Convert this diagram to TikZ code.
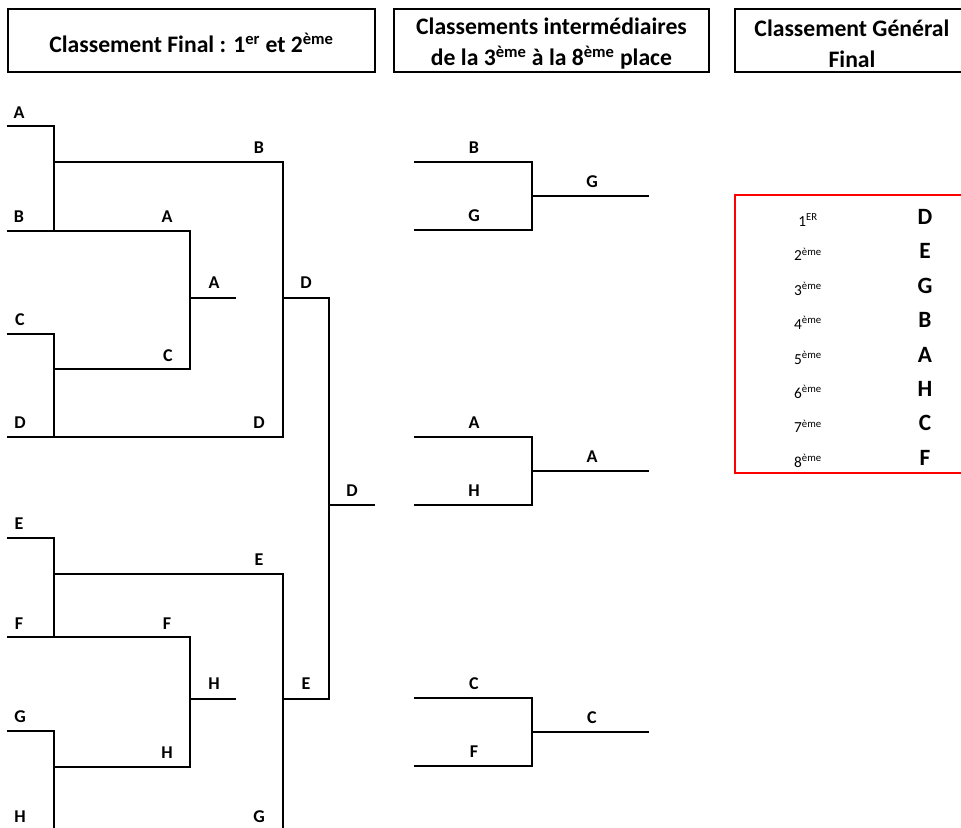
\documentclass[tikz,border=0pt]{standalone}
\usepackage{fontspec}
\setmainfont{Carlito}
\begin{document}
\begin{tikzpicture}[x=0.75pt,y=-0.75pt,
  br/.style={line width=1.5pt, line join=miter, line cap=rect},
  lbl/.style={font=\bfseries\fontsize{13.5}{16}\selectfont, inner sep=0pt},
  hdrbox/.style={draw, line width=1.5pt, inner sep=0pt, minimum height=47.25pt},
  hdrtext/.style={align=center, inner sep=0pt,
    font=\bfseries\fontsize{17.75}{23.25}\selectfont},
  rank/.style={font=\fontsize{11.5}{14}\selectfont, inner sep=0pt},
  win/.style={font=\bfseries\fontsize{17.5}{20}\selectfont, inner sep=0pt}]
\useasboundingbox (0,0) rectangle (961,828);
\clip (0,0) rectangle (961,828);

% headers
\node[hdrbox, minimum width=275.25pt] (h1) at (191.5,40.5) {};
\node[hdrtext] (t1) at ([yshift=-2pt]h1.center) {Classement Final : 1\textsuperscript{er} et 2\textsuperscript{ème}};
\node[hdrbox, minimum width=236.25pt] (h2) at (551.5,40.5) {};
\node[hdrtext] (t2) at ([yshift=-2.5pt]h2.center) {Classements intermédiaires\\de la 3\textsuperscript{ème} à la 8\textsuperscript{ème} place};
\node[hdrbox, minimum width=175.5pt] (h3) at (852,40.5) {};
\node[hdrtext] (t3) at ([yshift=-2.5pt]h3.center) {Classement Général\\Final};

% left bracket coordinates (top half)
\coordinate (A0) at (8,126);  \coordinate (A1) at (54,126);
\coordinate (B0) at (8,231);  \coordinate (B1) at (54,231);  \coordinate (B2) at (190,231);
\coordinate (AB) at (54,162); \coordinate (AB2) at (283,162);
\coordinate (C0) at (8,334);  \coordinate (C1) at (54,334);
\coordinate (D0) at (8,437);  \coordinate (D1) at (54,437);  \coordinate (D2) at (283,437);
\coordinate (CD) at (54,369); \coordinate (CD2) at (190,369);
\coordinate (S1) at (190,298); \coordinate (S1e) at (235,298);
\coordinate (T1) at (283,298); \coordinate (T1b) at (329,298);
% bottom half
\coordinate (E0) at (8,538);  \coordinate (E1) at (54,538);
\coordinate (F0) at (8,637);  \coordinate (F1) at (54,637);  \coordinate (F2) at (190,637);
\coordinate (EF) at (54,574); \coordinate (EF2) at (283,574);
\coordinate (G0) at (8,731);  \coordinate (G1) at (54,731);
\coordinate (H0) at (8,834);  \coordinate (H1) at (54,834);  \coordinate (H2) at (283,834);
\coordinate (GH) at (54,767); \coordinate (GH2) at (190,767);
\coordinate (S2) at (190,699); \coordinate (S2e) at (235,699);
\coordinate (T2) at (283,699); \coordinate (T2b) at (329,699);
\coordinate (FN) at (329,505); \coordinate (FNe) at (374,505);

\draw[br] (A0) -- (A1) -- (B1);
\draw[br] (B0) -- (B2) -- (CD2) -- (CD);
\draw[br] (AB) -- (AB2) -- (D2);
\draw[br] (C0) -- (C1) -- (D1);
\draw[br] (D0) -- (D2);
\draw[br] (S1) -- (S1e);
\draw[br] (T1) -- (T1b) -- (T2b) -- (T2);
\draw[br] (FN) -- (FNe);
\draw[br] (E0) -- (E1) -- (F1);
\draw[br] (F0) -- (F2) -- (GH2) -- (GH);
\draw[br] (EF) -- (EF2) -- (H2);
\draw[br] (G0) -- (G1) -- (H1);
\draw[br] (H0) -- (H2);
\draw[br] (S2) -- (S2e);

% labels left bracket
\node[lbl] (lA) at (19,113) {A};
\node[lbl] (lB) at (19,217) {B};
\node[lbl] (lC) at (20,320) {C};
\node[lbl] (lD) at (20,423) {D};
\node[lbl] (lE) at (19,524) {E};
\node[lbl] (lF) at (19,624) {F};
\node[lbl] (lG) at (20,717) {G};
\node[lbl] (lH) at (20,817) {H};
\node[lbl] (l2A) at (167,217) {A};
\node[lbl] (l2C) at (168,356) {C};
\node[lbl] (l2F) at (167,624) {F};
\node[lbl] (l2H) at (167,753) {H};
\node[lbl] (l3B) at (259,148) {B};
\node[lbl] (l3D) at (259,423) {D};
\node[lbl] (l3E) at (259,560) {E};
\node[lbl] (l3G) at (259,817) {G};
\node[lbl] (l4A) at (214,283) {A};
\node[lbl] (l4H) at (214,684) {H};
\node[lbl] (l5D) at (306,283) {D};
\node[lbl] (l5E) at (306,684) {E};
\node[lbl] (l6D) at (352,491) {D};

% intermediate brackets
\foreach \n/\t/\a/\b/\w in {m1/162/B/G/G, m2/437/A/H/A, m3/698/C/F/C} {
  \coordinate (\n a0) at (415,\t);
  \coordinate (\n a1) at (532,\t);
  \coordinate (\n b0) at (415,\t+68);
  \coordinate (\n b1) at (532,\t+68);
  \coordinate (\n o0) at (532,\t+34);
  \coordinate (\n o1) at (648,\t+34);
  \draw[br] (\n a0) -- (\n a1) -- (\n b1) -- (\n b0);
  \draw[br] (\n o0) -- (\n o1);
  \node[lbl] (\n la) at (474,\t-14) {\a};
  \node[lbl] (\n lb) at (474,\t+54) {\b};
  \node[lbl] (\n lw) at (592,\t+20) {\w};
}

% final ranking
\draw[red, line width=1.5pt] (735,195) rectangle (975,473);
\foreach \r/\s/\l [count=\i] in {1/ER/D, 2/ème/E, 3/ème/G, 4/ème/B, 5/ème/A, 6/ème/H, 7/ème/C, 8/ème/F} {
  \node[rank] (r\i) at (808,{217+34.4*(\i-1)+3}) {\r\textsuperscript{\s}};
  \node[win] (w\i) at (925,{217+34.4*(\i-1)}) {\l};
}
\end{tikzpicture}
\end{document}
